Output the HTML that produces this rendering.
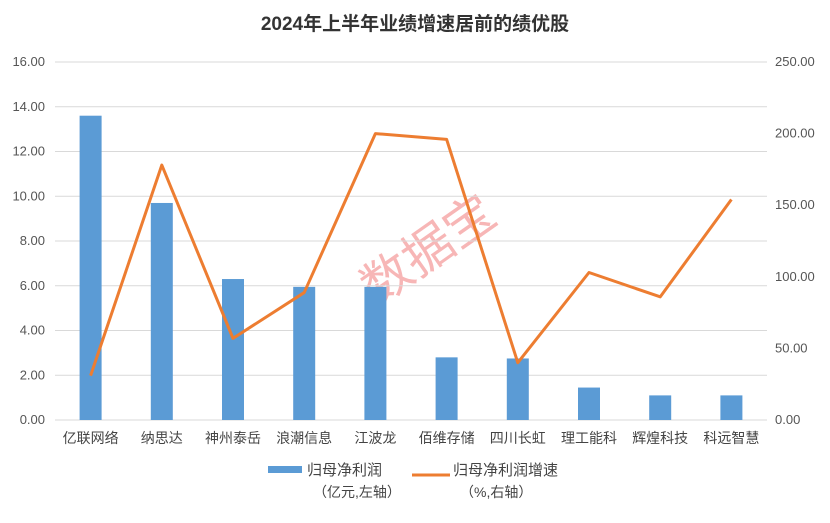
<!DOCTYPE html>
<html><head><meta charset="utf-8"><style>
body{margin:0;background:#fff;font-family:"Liberation Sans","Noto Sans CJK SC",sans-serif;}
svg text{font-family:"Liberation Sans","Noto Sans CJK SC",sans-serif;}
</style></head><body>
<svg id="chart" width="830" height="518">
<text x="415" y="30" text-anchor="middle" font-size="19" font-weight="bold" fill="#333">2024年上半年业绩增速居前的绩优股</text>
<text x="425" y="268" text-anchor="middle" font-size="50" fill="#f07070" opacity="0.5" transform="rotate(-35 425 245)">数据宝</text>
<g id="grid"></g><g id="bars"></g><g id="line"></g><g id="labels"></g>
<g>
<rect x="268" y="466" width="34" height="7" fill="#5b9bd5"/>
<text x="307" y="475" font-size="15" fill="#444">归母净利润</text>
<text x="313" y="497" font-size="14" fill="#444">（亿元,左轴）</text>
<line x1="412" y1="475" x2="450" y2="475" stroke="#ed7d31" stroke-width="3"/>
<text x="453" y="475" font-size="15" fill="#444">归母净利润增速</text>
<text x="460" y="497" font-size="14" fill="#444">（%,右轴）</text>
</g>
</svg>
<script>
const categories=["亿联网络","纳思达","神州泰岳","浪潮信息","江波龙","佰维存储","四川长虹","理工能科","辉煌科技","科远智慧"];
const profit=[13.6,9.7,6.3,5.95,5.95,2.8,2.75,1.45,1.1,1.1];
const growth=[31,178,57,89,200,196,40,103,86,154];
const leftTicks=[0,2,4,6,8,10,12,14,16];
const rightTicks=[0,50,100,150,200,250];
const NS="http://www.w3.org/2000/svg";
const x0=55,x1=767,yb=420,yt=62;
const yL=v=>yb-(v/16)*(yb-yt);
const yR=v=>yb-(v/250)*(yb-yt);
const step=(x1-x0)/categories.length;
const xc=i=>x0+step*(i+0.5);
function mk(t,a,p){const e=document.createElementNS(NS,t);for(const k in a)e.setAttribute(k,a[k]);p.appendChild(e);return e;}
const grid=document.getElementById('grid'),bars=document.getElementById('bars'),line=document.getElementById('line'),labels=document.getElementById('labels');
leftTicks.forEach(v=>{
 const g=mk('line',{x1:x0,x2:x1,y1:yL(v),y2:yL(v),stroke:'#d9d9d9','stroke-width':1},grid);
 
 
 const t=mk('text',{x:45,y:yL(v)+4,'text-anchor':'end','font-size':13,fill:'#555'},labels);t.textContent=v.toFixed(2);
 
 
});
rightTicks.forEach(v=>{
 const t=mk('text',{x:775,y:yR(v)+4,'font-size':13,fill:'#555'},labels);t.textContent=v.toFixed(2);
 
 
});
categories.forEach((c,i)=>{
 const r=mk('rect',{x:xc(i)-11,y:yL(profit[i]),width:22,height:yb-yL(profit[i]),fill:'#5b9bd5'},bars);
 
 
 const t=mk('text',{x:xc(i),y:443,'text-anchor':'middle','font-size':14,fill:'#444'},labels);t.textContent=c;
 
 
});
const p=mk('polyline',{points:growth.map((v,i)=>xc(i)+','+yR(v)).join(' '),fill:'none',stroke:'#ed7d31','stroke-width':3,'stroke-linejoin':'round'},line);


</script>
</body></html>
